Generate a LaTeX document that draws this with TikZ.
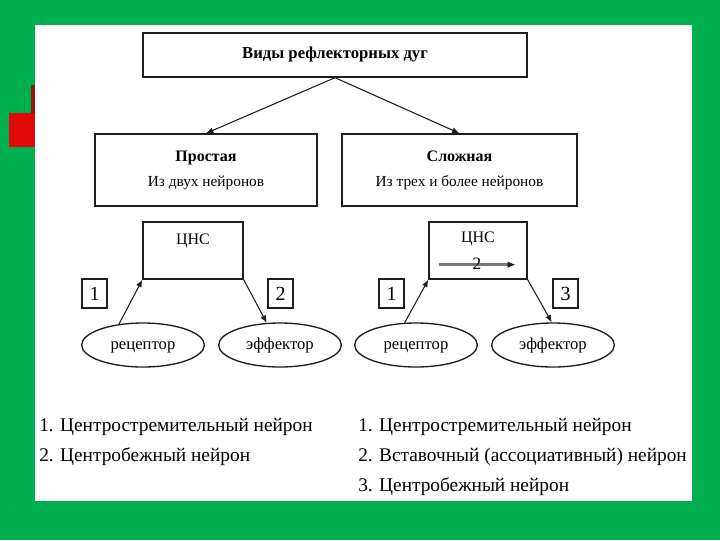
\documentclass[tikz,border=0pt]{standalone}
\usepackage{fontspec}
\setmainfont{Liberation Serif}
\usetikzlibrary{arrows.meta,positioning,shapes.geometric,calc}
\definecolor{slide}{RGB}{0,176,80}
\definecolor{corner}{RGB}{225,10,10}
\definecolor{cornerdark}{RGB}{150,20,20}
\definecolor{ink}{RGB}{30,30,30}
\tikzset{
  >={Latex[length=5.5pt,width=4.5pt]},
  box/.style={draw=ink,line width=1pt,inner sep=0pt,align=center,
    minimum width=#1,minimum height=54pt},
  numbox/.style={draw=ink,line width=1pt,inner sep=0pt,minimum width=18.75pt,
    minimum height=21.75pt,font=\fontsize{15}{18}\selectfont},
  organ/.style={ellipse,draw=ink,line width=1pt,minimum width=92pt,
    minimum height=33pt,inner sep=0pt,text height=8pt,text depth=2pt,
    font=\fontsize{12.5}{15}\selectfont},
  cns/.style={draw=ink,line width=1pt,minimum width=#1,minimum height=42.75pt},
  lbl/.style={inner sep=0pt,font=\fontsize{12}{14}\selectfont},
  link/.style={->,draw=ink,line width=0.8pt},
  item/.style={anchor=west,inner sep=0pt,font=\fontsize{14.5}{18}\selectfont},
}

\begin{document}
\begin{tikzpicture}[x=0.75pt,y=-0.75pt]
  \useasboundingbox (0,0) rectangle (720,540);
  % slide
  \fill[slide] (0,0) rectangle (720,540);
  \fill[white] (35,25) rectangle (692,501);
  \fill[cornerdark] (31,85) rectangle (35,113);
  \fill[corner] (9,113) rectangle (35,147);

  % kinds of arcs
  \node[box=288pt,minimum height=33pt,font=\fontsize{12.5}{15}\selectfont\bfseries] (kinds) at (335,55) {Виды рефлекторных дуг};
  \node[box=166.5pt,font=\fontsize{11.5}{18.75}\selectfont] (simple) at (206,170) {{\fontsize{12}{18.75}\selectfont\bfseries Простая}\\Из двух нейронов};
  \node[box=176.25pt,font=\fontsize{11.5}{18.75}\selectfont] (complex) at (459.5,170) {{\fontsize{12}{18.75}\selectfont\bfseries Сложная}\\Из трех и более нейронов};
  \draw[link] (kinds.south) -- (simple.north);
  \draw[link] (kinds.south) -- (complex.north);

  % simple arc
  \node[cns=75pt] (cns1) at (193,250.5) {};
  \node[lbl] (cnsname1) at ($(cns1.north)+(0,20)$) {ЦНС};
  \node[numbox] (n1a) at (94.5,293.5) {1};
  \node[numbox] (n2a) at (280.5,293.5) {2};
  \node[organ] (rec1) at (143,345) {рецептор};
  \node[organ] (eff1) at (280,345) {эффектор};
  \draw[link] (rec1.139) -- (cns1.south west);
  \draw[link] (cns1.south east) -- (eff1.121);

  % complex arc
  \node[cns=73.5pt] (cns2) at (478,250.5) {};
  \node[lbl] (cnsname2) at ($(cns2.north)+(0,18)$) {ЦНС};
  \coordinate (inA) at ($(cns2.south west)+(11,-15)$);
  \coordinate (inB) at ($(cns2.south east)+(-12,-15)$);
  \draw[-{Latex[length=6pt,width=5pt,color=ink]},draw=ink!60,line width=2pt] (inA) -- (inB);
  \node[lbl,font=\fontsize{13}{14}\selectfont] (n2in) at ($(cns2.south)+(-1,-16)$) {2};
  \node[numbox] (n1b) at (391.5,293.5) {1};
  \node[numbox] (n3b) at (565.5,293.5) {3};
  \node[organ] (rec2) at (416,345) {рецептор};
  \node[organ] (eff2) at (553,345) {эффектор};
  \draw[link] (rec2.117) -- (cns2.south west);
  \draw[link] (cns2.south east) -- (eff2.93);

  % neuron lists
  \foreach \t [count=\i from 0] in {1. Центростремительный нейрон,2. Центробежный нейрон}
    \node[item] (lft\i) at (39,{427+\i*30}) {\t};
  \foreach \t [count=\i from 0] in {1. Центростремительный нейрон,2. Вставочный (ассоциативный) нейрон,3. Центробежный нейрон}
    \node[item] (rgt\i) at (358,{427+\i*30}) {\t};
\end{tikzpicture}
\end{document}
